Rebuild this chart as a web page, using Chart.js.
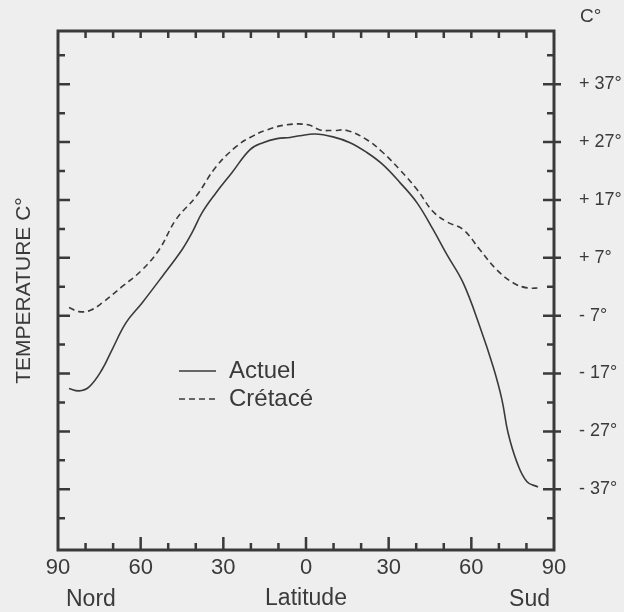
<!DOCTYPE html>
<html>
<head>
<meta charset="utf-8">
<script src="https://cdn.jsdelivr.net/npm/chart.js@4.4.1/dist/chart.umd.min.js"></script>
<style>
  html, body { margin: 0; padding: 0; background: #eeeeee; }
  canvas { display: block; }
</style>
</head>
<body>
<canvas id="chart" width="624" height="612"></canvas>
<script>
// latitude: negative = Nord, positive = Sud
// temperature values are in axis units (one major step = 10 units, label table below)
const actuelLat  = [-86, -82.4, -78.7, -74, -70.4, -65.3, -59.5, -52.3, -45, -41.4, -37.7, -32.7, -26.9, -20.3, -15.6, -10.5, -5.8, -2.2, 3.3, 9.8, 16, 22.1, 27.9, 34.1, 40.3, 46.1, 51.2, 57, 63.1, 67.9, 71.1, 73.3, 76.6, 80.2, 84.2];
const actuelTemp = [-17.6, -18, -17.3, -14.3, -10.9, -6.2, -2.8, 1.7, 6.4, 9.3, 12.8, 16.2, 19.7, 23.7, 24.9, 25.6, 25.8, 26.1, 26.4, 25.9, 24.9, 23.2, 21.1, 18, 14.5, 9.9, 5.5, 0.7, -6.9, -13.8, -19.5, -25.2, -30.4, -33.7, -34.6];

const cretaceLat  = [-86, -82.4, -78.4, -74, -66.8, -59.5, -53.3, -47.2, -39.9, -32.7, -25.4, -20.3, -14.2, -6.9, 0.7, 5.1, 9.8, 14.9, 22.1, 27.9, 34.1, 40.3, 46.1, 51.2, 57, 63.1, 69.3, 75.1, 80.2, 84.9];
const cretaceTemp = [-3.6, -4.3, -4.1, -2.8, 0, 2.9, 6.4, 11.6, 15.6, 20.7, 24.2, 25.8, 27.1, 28, 28, 27.1, 27, 27, 25.4, 23.2, 20.2, 16.8, 13, 11.2, 9.9, 6.4, 2.9, 0.7, -0.2, -0.2];

const xTickValues = [-90, -60, -30, 0, 30, 60, 90];
const xTickLabels = ['90', '60', '30', '0', '30', '60', '90'];
const yTickValues = [35, 25, 15, 5, -5, -15, -25, -35];
const yTickLabels = ['+ 37°', '+ 27°', '+ 17°', '+ 7°', '- 7°', '- 17°', '- 27°', '- 37°'];

const ink = '#3a3a3a';
const narrow = "'Liberation Sans Narrow', 'Liberation Sans', Arial, sans-serif";
const regular = "'Liberation Sans', Arial, sans-serif";

function toPoints(xs, ys) {
  return xs.map((x, i) => ({ x: x, y: ys[i] }));
}

// keep the plot box where the frame is, no label padding
function noPad(s) {
  s.paddingTop = 0;
  s.paddingBottom = 0;
  s.paddingLeft = 0;
  s.paddingRight = 0;
}

// frame, inward ticks, legend and side words
const frameTicks = {
  id: 'frameTicks',
  afterDatasetsDraw(chart) {
    const { ctx, chartArea: a, scales: { x, y } } = chart;
    ctx.save();
    ctx.strokeStyle = ink;
    ctx.lineWidth = 2.5;
    ctx.beginPath();
    for (let v = -40; v <= 40; v += 5) {
      const py = y.getPixelForValue(v);
      const major = yTickValues.includes(v);
      ctx.moveTo(a.left, py);
      ctx.lineTo(a.left + (major ? 12 : 7), py);
      ctx.moveTo(a.right - (major ? 11 : 7), py);
      ctx.lineTo(a.right + (major ? 7 : 0), py);
    }
    for (let v = -80; v <= 80; v += 10) {
      const px = x.getPixelForValue(v);
      const major = v % 30 === 0;
      ctx.moveTo(px, a.top);
      ctx.lineTo(px, a.top + 7);
      ctx.moveTo(px, a.bottom);
      ctx.lineTo(px, a.bottom - (major ? 13 : 7));
    }
    ctx.stroke();
    ctx.lineWidth = 3;
    ctx.strokeRect(a.left, a.top, a.width, a.height);

    // legend
    chart.data.datasets.forEach((ds, i) => {
      const ly = 371 + i * 28;
      ctx.lineWidth = ds.borderWidth;
      ctx.setLineDash(ds.borderDash || []);
      ctx.beginPath();
      ctx.moveTo(179, ly);
      ctx.lineTo(216, ly);
      ctx.stroke();
      ctx.setLineDash([]);
      ctx.fillStyle = ink;
      ctx.font = '24px ' + regular;
      ctx.textAlign = 'left';
      ctx.textBaseline = 'middle';
      ctx.fillText(ds.label, 229, ly);
    });

    ctx.font = '19px ' + narrow;
    ctx.fillText('C°', 580, 17);
    ctx.font = '23px ' + regular;
    ctx.fillText('Nord', 66, 600);
    ctx.textAlign = 'right';
    ctx.fillText('Sud', 550, 600);
    ctx.restore();
  }
};

new Chart(document.getElementById('chart'), {
  type: 'line',
  data: {
    datasets: [
      {
        label: 'Actuel',
        data: toPoints(actuelLat, actuelTemp),
        borderColor: ink,
        borderWidth: 1.6,
        pointRadius: 0,
        tension: 0.4,
        fill: false
      },
      {
        label: 'Crétacé',
        data: toPoints(cretaceLat, cretaceTemp),
        borderColor: ink,
        borderWidth: 1.6,
        borderDash: [6, 4],
        pointRadius: 0,
        tension: 0.4,
        fill: false
      }
    ]
  },
  options: {
    responsive: false,
    animation: false,
    devicePixelRatio: 1,
    layout: { padding: { top: 31, left: 0, right: 0, bottom: 0 } },
    plugins: { legend: { display: false }, tooltip: { enabled: false } },
    scales: {
      x: {
        type: 'linear',
        position: 'bottom',
        min: -90,
        max: 90,
        afterFit: s => { s.height = 62; noPad(s); },
        afterBuildTicks: s => { s.ticks = xTickValues.map(v => ({ value: v })); },
        grid: { display: false, drawTicks: false },
        border: { display: false },
        ticks: {
          padding: 5,
          color: ink,
          font: { family: narrow, size: 22 },
          maxRotation: 0,
          callback: v => xTickLabels[xTickValues.indexOf(v)]
        },
        title: {
          display: true,
          text: 'Latitude',
          color: ink,
          font: { family: regular, size: 23 },
          padding: { top: 0, bottom: 0 }
        }
      },
      y: {
        type: 'linear',
        position: 'right',
        min: -45.5,
        max: 44.2,
        afterFit: s => { s.width = 70; noPad(s); },
        afterBuildTicks: s => { s.ticks = yTickValues.map(v => ({ value: v })); },
        grid: { display: false, drawTicks: false },
        border: { display: false },
        ticks: {
          padding: 25,
          color: ink,
          font: { family: narrow, size: 18 },
          callback: v => yTickLabels[yTickValues.indexOf(v)]
        }
      },
      yl: {
        type: 'linear',
        position: 'left',
        min: -45.5,
        max: 44.2,
        afterFit: s => { s.width = 58; noPad(s); },
        grid: { display: false, drawTicks: false },
        border: { display: false },
        ticks: { display: false },
        title: {
          display: true,
          text: 'TEMPERATURE C°',
          color: ink,
          font: { family: regular, size: 21 },
          padding: { top: 12, bottom: 0 }
        }
      }
    }
  },
  plugins: [frameTicks]
});
</script>
</body>
</html>
